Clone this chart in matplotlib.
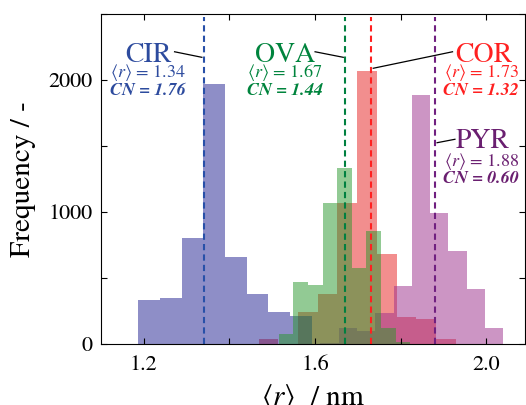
import matplotlib
matplotlib.use("Agg")
import matplotlib.pyplot as plt
from matplotlib.ticker import MultipleLocator

plt.rcParams['font.family'] = 'STIXGeneral'
plt.rcParams['mathtext.fontset'] = 'stix'

# histogram bin edges and counts
cir_edges = [1.188, 1.2385, 1.289, 1.3395, 1.39, 1.4405, 1.491, 1.5415, 1.592]
cir_counts = [330, 350, 800, 1970, 660, 380, 240, 210]

ova_edges = [1.515, 1.5492, 1.5834, 1.6176, 1.6518, 1.686, 1.7202, 1.7544, 1.7886, 1.8228]
ova_counts = [76, 467, 444, 1067, 1337, 575, 858, 121, 12]

cor_edges = [1.4685, 1.5145, 1.5605, 1.6065, 1.6525, 1.6985, 1.7445, 1.7905, 1.8365, 1.8825, 1.9285]
cor_counts = [38, 0, 240, 380, 1070, 2068, 680, 202, 187, 38]

pyr_edges = [1.6125, 1.6552, 1.6979, 1.7406, 1.7833, 1.826, 1.8687, 1.9114, 1.9541, 1.9968, 2.0395]
pyr_counts = [10, 124, 101, 237, 439, 1890, 995, 705, 414, 124]

names = ['CIR', 'OVA', 'COR', 'PYR']
mean_r = [1.34, 1.67, 1.73, 1.88]
cn = ['1.76', '1.44', '1.32', '0.60']

fill_cols = {'CIR': '#1f1f91', 'OVA': '#27972a', 'COR': '#e71f1f', 'PYR': '#9b2d8b'}
line_cols = {'CIR': '#2850a8', 'OVA': '#008040', 'COR': '#ff2020', 'PYR': '#702080'}
text_cols = {'CIR': '#2d4b9e', 'OVA': '#00843d', 'COR': '#ff2020', 'PYR': '#6a1f70'}

hists = {
    'CIR': (cir_edges, cir_counts),
    'OVA': (ova_edges, ova_counts),
    'COR': (cor_edges, cor_counts),
    'PYR': (pyr_edges, pyr_counts),
}

fig = plt.figure(figsize=(5.26, 4.05), dpi=100)
ax = fig.add_axes([0.1915, 0.1506, 0.8065, 0.8148])

# draw order matters for the blended colours
for name in ['COR', 'PYR', 'CIR', 'OVA']:
    edges, counts = hists[name]
    ax.stairs(counts, edges, fill=True, color=fill_cols[name], alpha=0.5, lw=0)

for name, r in zip(names, mean_r):
    ax.axvline(r, ymin=0, ymax=0.99, color=line_cols[name], ls=(0, (3, 2)), lw=1.5)

# labels: x of name, x of sub lines, baselines, alignment of sub lines
lab = {
    'CIR': (1.211, 1.211, 2139, 2023, 1890, 'center'),
    'OVA': (1.530, 1.530, 2139, 2023, 1890, 'center'),
    'COR': (1.994, 2.076, 2139, 2023, 1890, 'right'),
    'PYR': (1.991, 2.076, 1483, 1348, 1217, 'right'),
}
for name, r, c in zip(names, mean_r, cn):
    xn, xs, y0, y1, y2, ha = lab[name]
    col = text_cols[name]
    ax.text(xn, y0, name, color=col, fontsize=20, ha='center', va='baseline')
    ax.text(xs, y1, r'$\langle r\rangle$ = %.2f' % r, color=col, fontsize=13, ha=ha, va='baseline')
    ax.text(xs, y2, 'CN = ' + c, color=col, fontsize=13, ha=ha, va='baseline',
            fontweight='bold', fontstyle='italic')

# connector lines
conn = {
    'CIR': ((1.2723, 1.336), (2214, 2172)),
    'OVA': ((1.6002, 1.666), (2214, 2172)),
    'COR': ((1.921, 1.736), (2214, 2089)),
    'PYR': ((1.9266, 1.885), (1551, 1525)),
}
for name in names:
    xs, ys = conn[name]
    ax.plot(xs, ys, color='k', lw=0.9)

ax.set_xlim(1.1, 2.09)
ax.set_ylim(0, 2500)
ax.xaxis.set_major_locator(MultipleLocator(0.4))
ax.xaxis.set_minor_locator(MultipleLocator(0.2))
ax.yaxis.set_major_locator(MultipleLocator(1000))
ax.yaxis.set_minor_locator(MultipleLocator(500))
ax.xaxis.set_major_formatter(matplotlib.ticker.FormatStrFormatter('%.1f'))
ax.tick_params(which='both', direction='in', top=True, right=True, labelsize=16,
               length=4, width=0.8)
ax.tick_params(axis='x', pad=8)
ax.tick_params(axis='y', pad=6)
ax.tick_params(which='minor', labelbottom=False)

ax.set_xlabel(r'$\langle r\rangle$  / nm', fontsize=21, labelpad=5)
ax.set_ylabel('Frequency / -', fontsize=21, labelpad=9)

fig.savefig('out.png', dpi=100)
